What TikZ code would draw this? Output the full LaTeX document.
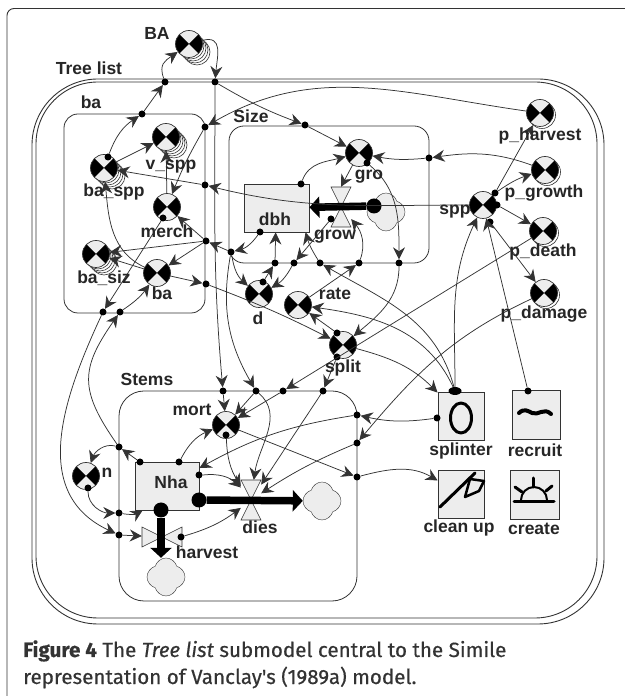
\documentclass[tikz,border=0pt]{standalone}
\usepackage{fontspec}
\setmainfont{Liberation Sans}
\newfontfamily\capfont{Fira Sans}
\usetikzlibrary{arrows.meta,shapes.symbols,shapes.geometric}
\definecolor{panel}{gray}{0.93}
\definecolor{ink}{gray}{0.2}
\tikzset{
  wire/.style={draw=ink,line width=0.75pt},
  link/.style={wire,-{Stealth[length=12pt,width=12pt,inset=4pt]}},
  flow/.style={draw=black,line width=7.5pt,-{Triangle[length=10pt,width=21pt]}},
  dot/.style={circle,fill=black,inner sep=0pt,minimum size=7pt},
  bigdot/.style={circle,fill=black,inner sep=0pt,minimum size=15pt},
  lbl/.style={font=\bfseries\fontsize{17.5}{17.5}\selectfont,text=black!85,inner sep=0pt},
  captext/.style={anchor=base west,inner sep=0pt,text=black!80,font=\capfont\fontsize{20.6}{20.6}\selectfont\addfontfeatures{FakeBold=0.5}},
  stock/.style={rectangle,draw=ink,fill=panel,line width=0.8pt,inner sep=0pt},
  sink/.style={cloud,cloud puffs=4,aspect=1,draw=ink,fill=panel,minimum width=38pt,minimum height=38pt,inner sep=0pt},
  valve/.style={rectangle,inner sep=0pt,minimum width=20pt,minimum height=40pt},
  glyph/.style={line width=3pt,line cap=round,line join=round,draw=black},
  varnode/.style={circle,draw=ink,fill=panel,minimum size=27pt,inner sep=0pt,line width=0.7pt,
    path picture={
      \fill[black] (path picture bounding box.center) -- ++(135:15pt) arc (135:225:15pt) -- cycle;
      \fill[black] (path picture bounding box.center) -- ++(-45:15pt) arc (-45:45:15pt) -- cycle;}},
}
\begin{document}
\begin{tikzpicture}[x=1pt,y=1pt]
  \useasboundingbox (0,0) rectangle (624,696);
  % frames
  \draw[draw=ink,line width=0.9pt,rounded corners=7pt] (7,-8) rectangle (640,687.5);
  \draw[draw=ink,line width=0.9pt,rounded corners=66pt] (32,72) rectangle (604,617);
  \draw[draw=ink,line width=0.9pt,rounded corners=62pt] (36,78) rectangle (597,614);
  \draw[draw=ink,line width=0.8pt,rounded corners=14pt] (64,383) rectangle (205,582);
  \draw[draw=ink,line width=0.8pt,rounded corners=15pt] (229,433) rectangle (429,570);
  \draw[draw=ink,line width=0.8pt,rounded corners=25pt] (119,95) rectangle (357,305);

  % stocks and buttons
  \node[stock,minimum width=65pt,minimum height=48pt] (dbh) at (276.5,488) {};
  \node[stock,minimum width=64pt,minimum height=48pt] (Nha) at (167,210) {};
  \node[stock,minimum width=46pt,minimum height=48pt] (splinter) at (461,280) {};
  \node[stock,minimum width=48pt,minimum height=49pt] (recruit) at (536,281.5) {};
  \node[stock,minimum width=46pt,minimum height=48pt] (cleanup) at (461,202) {};
  \node[stock,minimum width=49pt,minimum height=49pt] (create) at (534.5,201.5) {};

  % clouds
  \node[sink] (gcloud) at (386,484) {};
  \node[sink] (dcloud) at (322,195) {};
  \node[sink] (hcloud) at (166,119) {};

  % stacked variables
  \foreach \x/\y in {189/652,104/528,166/559,96/442}{
    \foreach \o in {8,6,4,2}{
      \draw[draw=ink,fill=white,line width=0.6pt] (\x+\o,\y-\o) circle (13pt);
    }
  }
  \foreach \x/\y in {540/583,545/526,543/465,544/403}{
    \draw[draw=ink,fill=white,line width=0.6pt] (\x+2,\y-2) circle (13.5pt);
  }

  % variables
  \foreach \name/\x/\y in {BA/189/652,baspp/104/528,vspp/166/559,merch/167/489,basiz/96/442,
      bavar/157/423,d/259/402,rate/298/391,gro/359/543,spp/483/491,pharvest/540/583,
      pgrowth/545/526,pdeath/543/465,pdamage/544/403,split/343/351,mort/226/271,n/86/220}{
    \node[varnode] (\name) at (\x,\y) {};
  }

  % valves
  \node[valve] (grow) at (341,489) {};
  \node[valve] (dies) at (251,196) {};
  \node[valve,minimum width=40pt,minimum height=20pt] (harvest) at (162,159) {};
  \draw[draw=ink,fill=panel,line width=0.6pt,shift={(grow)}] (-10,20) -- (10,20) -- (-10,-20) -- (10,-20) -- cycle;
  \draw[draw=ink,fill=panel,line width=0.6pt,shift={(dies)}] (-10,20) -- (10,20) -- (-10,-20) -- (10,-20) -- cycle;
  \draw[draw=ink,fill=panel,line width=0.6pt,shift={(harvest)}] (-20,10) -- (-20,-10) -- (20,10) -- (20,-10) -- cycle;

  % small dots
  \foreach \name/\x/\y in {t1/165/614,t2/215/614,a1/142/582,a2/205/569,a3/205/511,a4/206/455,
      a5/231/444,a6/206/412,a7/103/384,a8/120/384,s1/305/571,s2/429/538,s3/275/433,s4/294/433,
      s5/320/433,s6/359/433,s7/399/433,m1/223/305,m2/256/305,m3/283/305,m4/323/305,m5/357/281,
      m6/357/253,m7/357/219,m8/119/249,m9/119/183,m10/119/161,dtop/301/512,dbot/260/464,
      vdot/331/477,grodot/367/533,sp1/495/503,sp2/497/491,sp3/490/474,baspptop/108/539,
      merchbot/163/478,dkeep/263/414,spltop/337/363,splbot/337/339,mortbot/226/261,nbot/88/208,
      nh1/140/234,nh2/179/234,nh3/199/221,hdot/181/159,sl/437/278,rdot/528/305}{
    \node[dot] (\name) at (\x,\y) {};
  }
  \node[ellipse,fill=black,inner sep=0pt,minimum width=13pt,minimum height=8pt] (ltop) at (455,305) {};

  % thick flows
  \node[bigdot] (gsrc) at (374,490) {};
  \node[bigdot] (dsrc) at (199,196) {};
  \node[bigdot] (hsrc) at (161,186) {};
  \draw[flow] (gsrc) to (dbh);
  \draw[flow] (dsrc) to (dcloud);
  \draw[flow] (hsrc) to (hsrc |- hcloud.north);

  % links at the top
  \draw[link] (BA) to[out=15,in=85,looseness=1.4] (t2);
  \draw[link] (t1) to[out=110,in=215,looseness=1.3] (BA);
  \draw[link] (t2) to[out=-90,in=95] (m1);
  \draw[link] (m1) to (mort);
  \draw[link] (t2) to[bend right=5] (s1);
  \draw[link] (s1) to (gro);
  \draw[link] (pharvest) to[out=172,in=30] (a2);
  \draw[link] (a2) to[bend right=4] (merch);
  \draw[link] (baspptop) to[bend left=18] (a1);
  \draw[link] (a1) to (t1);
  \draw[link] (baspp) to (vspp);
  \draw[link] (merch) to (vspp);
  \draw[link] (spp) to[out=180,in=-14] (a3);
  \draw[link] (a3) to (baspp);

  % links round dbh and gro
  \draw[link] (dtop) to[out=70,in=195] (gro);
  \draw[link] (gro) to (grow.north);
  \draw[link] (pgrowth) to[out=160,in=8] (s2);
  \draw[link] (s2) to[bend left=8] (gro);
  \draw[link] (grodot) to[out=-40,in=90] (s7);
  \draw[link] (s7) to[out=-90,in=40] (split);
  \draw[link] (rate) to (s6);
  \draw[link] (s6) to[out=70,in=-50] (grow);
  \draw[link] (ltop) to[out=105,in=-30] (s5);
  \draw[link] (s5) to[bend left=8] (dbh.-40);
  \draw[link] (dkeep) to (s3);
  \draw[link] (s3) to (dbh.-92);
  \draw[link] (vdot) to (s4);
  \draw[link] (s4) to[bend left=15] (d);
  \draw[link] (dbot) to[bend left=20] (a5);
  \draw[link] (a5) to (a4);
  \draw[link] (a5) to[bend right=20] (d);
  \draw[link] (a4) to (merch);
  \draw[link] (a4) to (basiz);
  \draw[link] (a4) to (bavar);
  \draw[link] (a5) to[out=-100,in=120] (m2);
  \draw[link] (m2) to (mort);
  \draw[link] (m2) to[out=-40,in=82] (dies);

  % links round the ba box
  \draw[link] (bavar) to (a6);
  \draw[link] (a6) to[bend left=3] (split);
  \draw[link] (bavar) to (basiz);
  \draw[link] (bavar) to[out=155,in=-85] (baspp);
  \draw[link] (merchbot) to (a7);
  \draw[link] (a7) to[out=-115,in=155,looseness=1.1] (m10);
  \draw[link] (m10) to (harvest);
  \draw[link] (m8) to[out=125,in=-125,looseness=1.3] (a8);
  \draw[link] (a8) to[bend right=10] (bavar);
  \draw[link] (nh1) to (m8);
  \draw[link] (m8) to[out=165,in=70] (n);
  \draw[link] (nbot) to[out=-90,in=180] (m9);
  \draw[link] (m9) to[out=-10,in=-150] (Nha.-135);

  % links round Nha and dies
  \draw[link] (nh2) to[bend left=20] (mort);
  \draw[link] (nh3) to[bend left=25] (dies);
  \draw[link] (hdot) to[bend right=10] (dies);
  \draw[link] (mortbot) to[bend right=15] (dies);
  \draw[link] (mort) to (m7);
  \draw[link] (m7) to[out=15,in=150] (cleanup);
  \draw[link] (splbot) to (m4);
  \draw[link] (m4) to (dies);
  \draw[link] (pdeath) to (m3);
  \draw[link] (m3) to (mort);
  \draw[link] (pdamage) to[out=205,in=50] (m6);
  \draw[link] (m6) to[bend right=5] (dies);
  \draw[link] (sl) to[bend left=10] (m5);
  \draw[link] (m5) to[bend right=10] (Nha.29);
  \draw[link] (split) to[out=-15,in=135] (splinter);
  \draw[link] (ltop) to[out=90,in=-115] (spp);
  \draw[link] (ltop) to[out=115,in=-8] (rate);
  \draw[link] (rdot) to (spp);
  \draw[link] (spltop) to (rate);

  % links round spp
  \draw[link] (sp1) to (pharvest);
  \draw[link] (sp1) to[bend left=8] (pgrowth);
  \draw[link] (sp2) to (pdeath);
  \draw[link] (sp3) to (pdamage);

  % button pictures
  \draw[glyph] (461,278) ellipse (10.5pt and 15pt);
  \draw[glyph,line width=4pt] (519,283) .. controls (524,288) and (528,285) .. (532,283) .. controls (538,280) and (544,289) .. (551,282);
  \draw[glyph] (440,189) -- (475,223);
  \draw[glyph,line width=2.5pt] (470,217) -- (484,215) -- (479,205) -- (465,199) -- cycle;
  \draw[glyph] (514,194) -- (554,194);
  \draw[glyph,line width=2pt] (521,196) arc (180:0:13pt);
  \draw[glyph] (533,218) -- (533,209);
  \draw[glyph] (515,209) -- (522,204);
  \draw[glyph] (552,210) -- (546,205);

  % labels
  \node[lbl] (tBA) at (157,663) {BA};
  \node[lbl] (tTree) at (89,628) {Tree list};
  \node[lbl] (tbabox) at (91,594) {ba};
  \node[lbl] (tSize) at (251,580) {Size};
  \node[lbl] (tStems) at (147,317) {Stems};
  \node[lbl] (tbaspp) at (114,504) {ba\_spp};
  \node[lbl] (tvspp) at (171,529) {v\_spp};
  \node[lbl] (tmerch) at (167,465) {merch};
  \node[lbl] (tbasiz) at (104,418) {ba\_siz};
  \node[lbl] (tba) at (162,403) {ba};
  \node[lbl] (td) at (258,378) {d};
  \node[lbl] (trate) at (335,402) {rate};
  \node[lbl] (tgro) at (369,519) {gro};
  \node[lbl] (tgrow) at (335,459) {grow};
  \node[lbl] (tspp) at (455,484) {spp};
  \node[lbl] (tpharvest) at (540,560) {p\_harvest};
  \node[lbl] (tpgrowth) at (544,503) {p\_growth};
  \node[lbl] (tpdeath) at (543,444) {p\_death};
  \node[lbl] (tpdamage) at (544,382) {p\_damage};
  \node[lbl] (tsplit) at (343,328) {split};
  \node[lbl] (tmort) at (192,286) {mort};
  \node[lbl] (tn) at (107,223) {n};
  \node[lbl] (tdbh) at (275,477) {dbh};
  \node[lbl] (tNha) at (171,214) {Nha};
  \node[lbl] (tharvest) at (207,144) {harvest};
  \node[lbl] (tdies) at (260,169) {dies};
  \node[lbl] (tsplinter) at (461,245) {splinter};
  \node[lbl] (trecruit) at (535,246) {recruit};
  \node[lbl] (tcleanup) at (459,168) {clean up};
  \node[lbl] (tcreate) at (534,167) {create};

  % caption
  \node[captext] (capone) at (23,39)
    {\textbf{Figure 4} The \textit{Tree list} submodel central to the Simile};
  \node[captext] (captwo) at (23,12)
    {representation of Vanclay's (1989a) model.};
\end{tikzpicture}
\end{document}
